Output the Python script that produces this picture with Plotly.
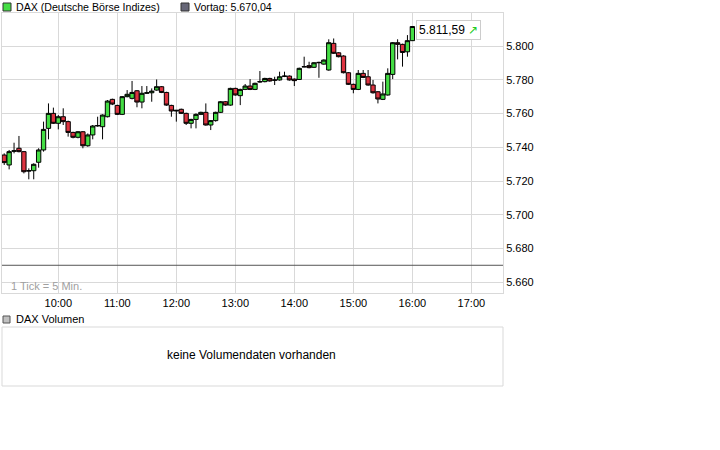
import pandas as pd
import plotly.graph_objs as go

# 5-min candles, DAX intraday
times = pd.date_range("2010-06-22 09:05", "2010-06-22 16:00", freq="5min")

opens = [5735.4, 5729.5, 5737.6, 5739.4, 5737.4, 5725.9, 5726.1, 5731.1, 5738.4, 5751.2,
         5760.1, 5754.2, 5758.1, 5755.2, 5748.8, 5745.9, 5749.2, 5740.9, 5747.3, 5752.6,
         5752.2, 5758.1, 5768.4, 5764.8, 5759.5, 5770.0, 5769.0, 5773.5, 5766.8, 5772.0,
         5772.3, 5773.9, 5775.9, 5772.5, 5764.8, 5761.5, 5762.5, 5760.1, 5754.2, 5756.5,
         5759.5, 5760.7, 5753.2, 5755.8, 5760.7, 5767.0, 5765.0, 5774.9, 5770.6, 5774.3,
         5776.3, 5774.3, 5778.7, 5778.9, 5780.8, 5779.7, 5779.9, 5782.0, 5782.2, 5780.4,
         5780.2, 5787.6, 5788.4, 5787.4, 5790.1, 5789.3, 5785.8, 5801.6, 5796.0, 5794.1,
         5784.2, 5777.3, 5774.3, 5783.8, 5781.8, 5776.9, 5772.9, 5768.4, 5771.0, 5783.2,
         5802.0, 5801.0, 5796.6, 5803.2]
highs = [5736.4, 5738.4, 5742.7, 5746.7, 5737.8, 5727.5, 5730.5, 5739.4, 5755.2, 5766.0,
         5763.5, 5759.1, 5763.1, 5755.8, 5749.2, 5749.6, 5749.6, 5748.2, 5753.2, 5758.1,
         5759.5, 5768.0, 5768.8, 5765.2, 5770.4, 5773.9, 5779.3, 5773.9, 5776.3, 5776.3,
         5774.9, 5780.2, 5776.3, 5772.9, 5765.2, 5762.1, 5762.9, 5760.5, 5756.9, 5760.1,
         5761.1, 5766.0, 5756.1, 5761.1, 5767.4, 5767.4, 5775.3, 5775.3, 5774.7, 5777.5,
         5780.4, 5778.3, 5785.2, 5781.2, 5781.2, 5781.8, 5784.8, 5784.8, 5782.6, 5780.8,
         5787.2, 5793.7, 5790.7, 5790.5, 5790.7, 5792.1, 5804.0, 5804.5, 5796.4, 5794.5,
         5784.6, 5777.7, 5785.8, 5785.8, 5785.8, 5779.9, 5773.3, 5778.9, 5786.8, 5802.4,
         5804.0, 5801.4, 5806.5, 5811.8]
lows = [5729.5, 5726.9, 5736.4, 5737.0, 5724.5, 5721.0, 5721.0, 5727.9, 5737.4, 5744.7,
        5753.8, 5750.6, 5753.2, 5746.3, 5745.3, 5745.3, 5739.4, 5740.3, 5744.7, 5752.2,
        5744.7, 5757.7, 5765.0, 5759.1, 5759.1, 5769.6, 5768.4, 5763.7, 5763.1, 5771.6,
        5767.0, 5773.5, 5772.1, 5764.6, 5758.1, 5755.2, 5759.7, 5753.2, 5751.2, 5751.2,
        5759.1, 5752.8, 5750.2, 5755.2, 5760.3, 5764.6, 5764.6, 5770.6, 5765.0, 5773.9,
        5773.9, 5773.9, 5778.3, 5778.5, 5778.9, 5776.9, 5779.5, 5781.6, 5779.5, 5776.3,
        5779.9, 5787.4, 5786.8, 5787.0, 5781.2, 5788.9, 5785.4, 5795.3, 5793.3, 5783.8,
        5776.9, 5772.0, 5773.9, 5781.0, 5776.5, 5771.8, 5766.0, 5768.0, 5770.6, 5780.4,
        5792.1, 5787.8, 5793.7, 5803.0]
closes = [5730.9, 5737.4, 5737.9, 5737.4, 5725.5, 5726.1, 5729.9, 5738.4, 5750.6, 5760.1,
          5754.2, 5758.1, 5755.2, 5748.8, 5745.9, 5749.2, 5740.9, 5747.3, 5752.6, 5752.9,
          5759.1, 5767.4, 5765.6, 5759.5, 5770.0, 5771.4, 5772.5, 5766.8, 5772.0, 5772.3,
          5773.3, 5775.9, 5772.5, 5765.0, 5761.5, 5761.9, 5760.1, 5754.2, 5756.5, 5759.5,
          5760.7, 5753.2, 5755.8, 5760.7, 5767.0, 5765.0, 5774.9, 5771.0, 5774.3, 5776.3,
          5774.3, 5777.9, 5778.9, 5780.8, 5779.3, 5779.9, 5781.8, 5782.2, 5779.9, 5779.5,
          5786.8, 5787.8, 5787.2, 5790.1, 5790.3, 5791.7, 5802.0, 5795.7, 5793.7, 5784.2,
          5777.3, 5774.3, 5783.8, 5781.4, 5776.9, 5772.3, 5768.6, 5771.6, 5783.8, 5802.0,
          5801.0, 5796.2, 5803.2, 5811.59]

vortag = 5670.04
y_ticks = [5660, 5680, 5700, 5720, 5740, 5760, 5780, 5800]
x_ticks = pd.date_range("2010-06-22 10:00", "2010-06-22 17:00", freq="1h")

W, H = 720, 450
def px_x(p):
    return p / W
def px_y(p):
    return 1 - p / H

# german number format 5.670,04
def de(v):
    return f"{v:,.2f}".replace(",", "X").replace(".", ",").replace("X", ".")

font = "Liberation Sans"
grid = "#d9d9d9"

fig = go.Figure()
fig.add_trace(go.Candlestick(
    x=times, open=opens, high=highs, low=lows, close=closes,
    increasing=dict(fillcolor="#44dd44", line=dict(color="#000000", width=1)),
    decreasing=dict(fillcolor="#dd3340", line=dict(color="#000000", width=1)),
    whiskerwidth=0, showlegend=False, hoverinfo="skip",
))

fig.update_layout(
    width=W, height=H, margin=dict(l=0, r=0, t=0, b=0),
    paper_bgcolor="white", plot_bgcolor="white",
    separators=",.", boxgap=0.12, boxgroupgap=0,
    font=dict(family=font, size=11, color="#000000"),
    xaxis=dict(
        domain=[px_x(2), px_x(503)],
        range=["2010-06-22 09:02:45", "2010-06-22 17:32:10"],
        rangeslider=dict(visible=False),
        tickvals=x_ticks, tickformat="%H:%M",
        showgrid=True, gridcolor=grid, gridwidth=1,
        showline=True, linecolor=grid, mirror=True,
        ticks="", zeroline=False, fixedrange=True,
    ),
    yaxis=dict(
        domain=[px_y(293), px_y(13)],
        range=[5653.6, 5819.6],
        side="right", tickvals=y_ticks, tickformat=",.0f",
        showgrid=True, gridcolor=grid, gridwidth=1,
        showline=True, linecolor=grid, mirror=True,
        ticks="", zeroline=False, fixedrange=True,
    ),
)

# previous close line
fig.add_shape(type="line", xref="x domain", yref="y", x0=0, x1=1,
              y0=vortag, y1=vortag, line=dict(color="#555555", width=1))

# legend on top
fig.add_shape(type="rect", xref="paper", yref="paper",
              x0=px_x(3), x1=px_x(11), y0=px_y(11), y1=px_y(3),
              fillcolor="#44dd44", line=dict(color="#333333", width=1))
fig.add_annotation(text="DAX (Deutsche Börse Indizes)", xref="paper", yref="paper",
                   x=px_x(14), y=px_y(7), xanchor="left", yanchor="middle",
                   showarrow=False, font=dict(size=10.6))
fig.add_shape(type="rect", xref="paper", yref="paper",
              x0=px_x(181), x1=px_x(189), y0=px_y(11), y1=px_y(3),
              fillcolor="#666677", line=dict(color="#333333", width=1))
fig.add_annotation(text="Vortag: " + de(vortag),
                   xref="paper", yref="paper",
                   x=px_x(192), y=px_y(7), xanchor="left", yanchor="middle",
                   showarrow=False, font=dict(size=10.6))

# last price box
fig.add_annotation(text=de(closes[-1]) + " <span style='color:#22cc22'>&#8599;</span>",
                   xref="x", yref="y", x=times[-1], y=closes[-1],
                   xanchor="left", yanchor="middle", xshift=4, yshift=-3,
                   showarrow=False, bgcolor="white", bordercolor="#cccccc",
                   borderwidth=1, borderpad=2, font=dict(size=12))

fig.add_annotation(text="1 Tick = 5 Min.", xref="paper", yref="paper",
                   x=px_x(9), y=px_y(286), xanchor="left", yanchor="middle",
                   showarrow=False, font=dict(size=11, color="#a0a0a0"))

# volume panel
fig.add_shape(type="rect", xref="paper", yref="paper",
              x0=px_x(3), x1=px_x(10), y0=px_y(323), y1=px_y(316),
              fillcolor="#c0c0c0", line=dict(color="#555555", width=1))
fig.add_annotation(text="DAX Volumen", xref="paper", yref="paper",
                   x=px_x(14), y=px_y(319), xanchor="left", yanchor="middle",
                   showarrow=False, font=dict(size=11))
fig.add_shape(type="rect", xref="paper", yref="paper",
              x0=px_x(2), x1=px_x(503), y0=px_y(386), y1=px_y(327),
              line=dict(color="#d9d9d9", width=1))
fig.add_annotation(text="keine Volumendaten vorhanden", xref="paper", yref="paper",
                   x=px_x(252), y=px_y(355), xanchor="center", yanchor="middle",
                   showarrow=False, font=dict(size=12))

fig.write_html("out.html", config=dict(displayModeBar=False),
               post_script="document.body.style.margin='0px';")
